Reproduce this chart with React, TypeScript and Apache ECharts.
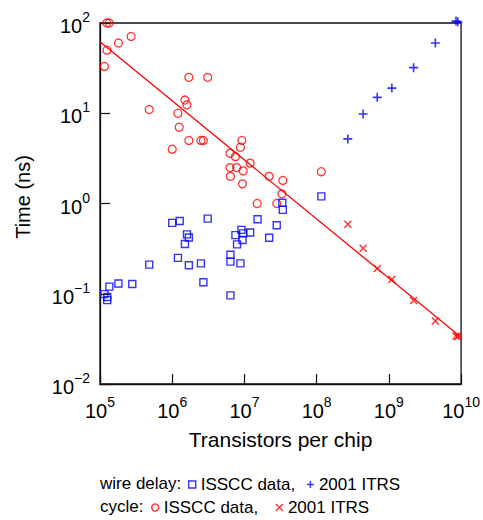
import React, { useEffect, useRef } from "react";
import * as echarts from "echarts";

// Wire delay measured on ISSCC chips
const wireIssccX = [1.15e5, 1.26e5, 1.26e5, 1.35e5, 1.8e5, 2.8e5, 4.8e5, 1.0e6, 1.27e6, 1.2e6, 1.6e6, 1.7e6, 1.5e6, 1.7e6, 2.5e6, 2.7e6, 3.1e6, 6.4e6, 6.4e6, 6.4e6, 8.8e6, 7.5e6, 7.9e6, 9.1e6, 9.6e6, 9.4e6, 1.2e7, 1.52e7, 2.2e7, 2.8e7, 3.35e7, 3.4e7, 1.16e8];
const wireIssccY = [0.099, 0.092, 0.085, 0.12, 0.13, 0.128, 0.21, 0.61, 0.64, 0.25, 0.455, 0.42, 0.356, 0.207, 0.217, 0.134, 0.68, 0.27, 0.227, 0.096, 0.217, 0.446, 0.352, 0.51, 0.467, 0.394, 0.478, 0.67, 0.418, 0.575, 1.02, 0.85, 1.2];

// Wire delay projected by the 2001 ITRS
const wireItrsX = [2.7e8, 4.4e8, 6.9e8, 1.1e9, 2.2e9, 4.4e9, 8.5e9, 9.0e9];
const wireItrsY = [5.2, 9.8, 15, 19, 32, 60, 105, 103];

// Cycle time measured on ISSCC chips
const cycleIssccX = [1.24e5, 1.34e5, 1.25e5, 1.15e5, 1.8e5, 2.7e5, 1.7e6, 3.1e6, 1.5e6, 1.6e6, 4.8e5, 1.2e6, 1.25e6, 1.7e6, 2.5e6, 2.7e6, 1.0e6, 9.2e6, 8.8e6, 6.3e6, 7.5e6, 1.2e7, 6.3e6, 7.8e6, 9.6e6, 6.4e6, 9.4e6, 2.2e7, 3.4e7, 1.16e8, 3.3e7, 1.5e7, 2.8e7];
const cycleIssccY = [100, 100, 50, 33, 60, 71, 25, 25, 14, 12.4, 11, 10, 7, 5, 5, 5, 4, 5, 4.2, 3.6, 3.3, 2.8, 2.5, 2.5, 2.3, 2.0, 1.65, 2.0, 1.8, 2.25, 1.28, 1.0, 1.0];

// Cycle time projected by the 2001 ITRS
const cycleItrsX = [2.7e8, 4.4e8, 6.9e8, 1.1e9, 2.2e9, 4.4e9, 8.5e9, 9.0e9];
const cycleItrsY = [0.59, 0.32, 0.19, 0.145, 0.084, 0.05, 0.034, 0.0335];

// Power-law trend through the cycle-time data
const fitX = [1e5, 1e10];
const fitY = [62, 0.033];

// Axis ranges (decades)
const xRange = [1e5, 1e10];
const yRange = [1e-2, 1e2];

const seriesLabels: Record<string, string> = {
  wireIsscc: "ISSCC data,",
  wireItrs: "2001 ITRS",
  cycleIsscc: "ISSCC data,",
  cycleItrs: "2001 ITRS",
};

const FONT = "'Liberation Sans', Arial, Helvetica, sans-serif";
const BLUE = "#0000ff";
const RED = "#ff0000";
const PLUS = "path://M0,5L10,5M5,0L5,10";
const CROSS = "path://M0,0L10,10M10,0L0,10";

const zip = (xs: number[], ys: number[]) => xs.map((x, i) => [x, ys[i]]);

const powerLabel = (v: number) => {
  const e = Math.round(Math.log10(v));
  const exp = e < 0 ? "\u2212" + Math.abs(e) : String(e);
  return "{b|10}{s|" + exp + "}";
};

const labelRich = {
  b: { fontSize: 20, lineHeight: 26, verticalAlign: "bottom", fontFamily: FONT, color: "#000" },
  s: { fontSize: 14, lineHeight: 14, verticalAlign: "top", fontFamily: FONT, color: "#000" },
};

export default function App() {
  const ref = useRef<HTMLDivElement>(null);

  useEffect(() => {
    if (!ref.current) return;
    const chart = echarts.init(ref.current, undefined, { renderer: "svg" });

    const hollow = (color: string, width: number) => ({
      color: "rgba(0,0,0,0)",
      borderColor: color,
      borderWidth: width,
    });

    const legendText = { fontSize: 17, fontFamily: FONT, color: "#000" };

    chart.setOption({
      animation: false,
      backgroundColor: "#fff",
      textStyle: { fontFamily: FONT },
      grid: {
        left: 100,
        right: 20,
        top: 23,
        bottom: 136,
        show: true,
        borderColor: "#111",
        borderWidth: 1.3,
        backgroundColor: "transparent",
      },
      xAxis: {
        type: "log",
        logBase: 10,
        min: xRange[0],
        max: xRange[1],
        splitNumber: 5,
        name: "Transistors per chip",
        nameLocation: "middle",
        nameGap: 45,
        nameTextStyle: { fontSize: 21, fontFamily: FONT, color: "#000" },
        axisLine: { lineStyle: { color: "#111", width: 1.3 } },
        axisTick: { inside: true, length: 10, lineStyle: { color: "#111", width: 1.2 } },
        minorTick: { show: false },
        splitLine: { show: false },
        axisLabel: { margin: 11, formatter: powerLabel, rich: labelRich },
      },
      yAxis: {
        type: "log",
        logBase: 10,
        min: yRange[0],
        max: yRange[1],
        splitNumber: 4,
        axisLine: { lineStyle: { color: "#111", width: 1.3 } },
        axisTick: { inside: true, length: 10, lineStyle: { color: "#111", width: 1.2 } },
        minorTick: { show: false },
        splitLine: { show: false },
        axisLabel: { margin: 10, formatter: powerLabel, rich: labelRich },
      },
      legend: [
        {
          data: ["wireIsscc", "wireItrs"],
          left: 188,
          top: 476,
          padding: 0,
          itemWidth: 7,
          itemHeight: 7,
          itemGap: 11,
          formatter: (n: string) => seriesLabels[n],
          textStyle: legendText,
          itemStyle: { borderWidth: 1.4 },
          selectedMode: false,
        },
        {
          data: ["cycleIsscc", "cycleItrs"],
          left: 151,
          top: 499,
          padding: 0,
          itemWidth: 7,
          itemHeight: 7,
          itemGap: 17,
          formatter: (n: string) => seriesLabels[n],
          textStyle: legendText,
          itemStyle: { borderWidth: 1.4 },
          selectedMode: false,
        },
      ],
      graphic: [
        {
          type: "text",
          x: 23,
          y: 197,
          rotation: Math.PI / 2,
          style: {
            text: "Time (ns)",
            fontSize: 20,
            fontFamily: FONT,
            fill: "#000",
            align: "center",
            verticalAlign: "middle",
          },
        },
        {
          type: "text",
          left: 100,
          top: 475,
          style: { text: "wire delay:", fontSize: 17, fontFamily: FONT, fill: "#000" },
        },
        {
          type: "text",
          left: 100,
          top: 498,
          style: { text: "cycle:", fontSize: 17, fontFamily: FONT, fill: "#000" },
        },
      ],
      series: [
        {
          name: "fit",
          type: "line",
          data: zip(fitX, fitY),
          symbol: "none",
          lineStyle: { color: RED, width: 1.3 },
          silent: true,
        },
        {
          name: "cycleIsscc",
          type: "scatter",
          data: zip(cycleIssccX, cycleIssccY),
          symbol: "circle",
          symbolSize: 8,
          clip: false,
          itemStyle: hollow(RED, 1.3),
        },
        {
          name: "wireIsscc",
          type: "scatter",
          data: zip(wireIssccX, wireIssccY),
          symbol: "rect",
          symbolSize: 7,
          clip: false,
          itemStyle: hollow(BLUE, 1.4),
        },
        {
          name: "cycleItrs",
          type: "scatter",
          data: zip(cycleItrsX, cycleItrsY),
          symbol: CROSS,
          symbolSize: 7,
          clip: false,
          itemStyle: hollow(RED, 1.5),
        },
        {
          name: "wireItrs",
          type: "scatter",
          data: zip(wireItrsX, wireItrsY),
          symbol: PLUS,
          symbolSize: 9,
          clip: false,
          itemStyle: hollow(BLUE, 1.6),
        },
      ],
    });

    return () => chart.dispose();
  }, []);

  return (
    <div
      ref={ref}
      style={{ position: "absolute", left: 0, top: 0, width: 483, height: 520, background: "#fff" }}
    />
  );
}
